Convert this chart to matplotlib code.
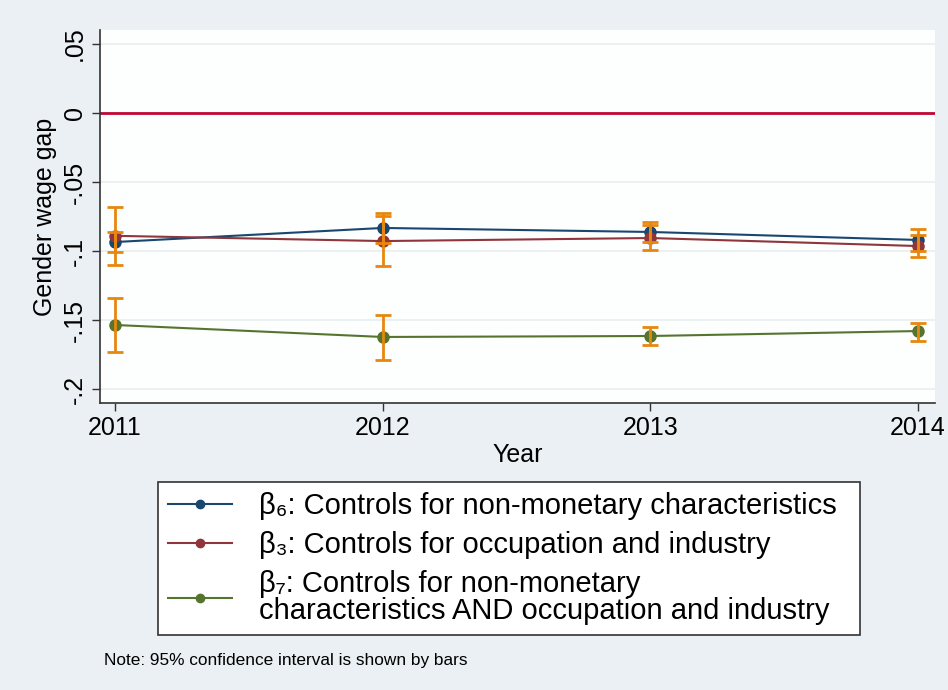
import matplotlib
matplotlib.use("Agg")
import matplotlib.pyplot as plt
from matplotlib.lines import Line2D

plt.rcParams['font.family'] = ['Liberation Sans', 'DejaVu Sans']

years = [2011, 2012, 2013, 2014]
year_labels = ['2011', '2012', '2013', '2014']

beta6 = [-0.0935, -0.0833, -0.0862, -0.0920]
beta6_lo = [-0.1007, -0.0942, -0.0935, -0.1000]
beta6_hi = [-0.0862, -0.0725, -0.0790, -0.0840]

beta3 = [-0.0890, -0.0928, -0.0906, -0.0964]
beta3_lo = [-0.1100, -0.1109, -0.0993, -0.1043]
beta3_hi = [-0.0681, -0.0746, -0.0812, -0.0884]

beta7 = [-0.1536, -0.1623, -0.1616, -0.1580]
beta7_lo = [-0.1732, -0.1790, -0.1680, -0.1650]
beta7_hi = [-0.1340, -0.1464, -0.1550, -0.1520]

yticks = [0.05, 0, -0.05, -0.1, -0.15, -0.2]
ytick_labels = ['.05', '0', '-.05', '-.1', '-.15', '-.2']

labels = ['β₆: Controls for non-monetary characteristics',
          'β₃: Controls for occupation and industry',
          'β₇: Controls for non-monetary\ncharacteristics AND occupation and industry']

c_blue = '#1a476f'
c_red = '#90353b'
c_green = '#55752f'
c_orange = '#e8870e'
c_ref = '#c10534'
bg = '#eaf0f3'

fig = plt.figure(figsize=(9.48, 6.90), dpi=100, facecolor=bg)
ax = fig.add_axes([100/948, 1-403/690, (935-100)/948, (403-30)/690])
ax.set_facecolor('#fdfefe')

for yt in yticks:
    ax.axhline(yt, color='#e8eef0', lw=1.2, zorder=0)
ax.axhline(0, color=c_ref, lw=2, zorder=1)

series = [(beta6, beta6_lo, beta6_hi, c_blue),
          (beta3, beta3_lo, beta3_hi, c_red),
          (beta7, beta7_lo, beta7_hi, c_green)]
for vals, lo, hi, col in series:
    ax.plot(years, vals, color=col, lw=1.5, marker='o', ms=8, zorder=3)
for vals, lo, hi, col in series:
    yerr = [[v - l for v, l in zip(vals, lo)], [h - v for v, h in zip(vals, hi)]]
    ax.errorbar(years, vals, yerr=yerr, fmt='none', ecolor=c_orange,
                elinewidth=2, capsize=5.5, capthick=2, zorder=4)

ax.set_xlim(2011 - 15/267.7, 2014 + 17/267.7)
ax.set_ylim(-(403-113)/1380, (113-30)/1380)
ax.set_xticks(years)
ax.set_xticklabels(year_labels, fontsize=18)
ax.set_yticks(yticks)
ax.set_yticklabels(ytick_labels, fontsize=18, rotation=90, va='center')
ax.tick_params(axis='both', direction='out', length=6, width=1, color='#333333')
ax.set_xlabel('Year', fontsize=18, labelpad=2)
ax.set_ylabel('Gender wage gap', fontsize=18, labelpad=4)
for s in ['top', 'right']:
    ax.spines[s].set_visible(False)
for s in ['left', 'bottom']:
    ax.spines[s].set_color('#333333')
    ax.spines[s].set_linewidth(1.2)

handles = [Line2D([], [], color=c, lw=1.5, marker='o', ms=6) for c in (c_blue, c_red, c_green)]
leg = fig.legend(handles, labels, loc='upper left',
                 bbox_to_anchor=(158/948, 1-636/690, (860-158)/948, (636-482)/690),
                 mode='expand', fontsize=21, frameon=True, fancybox=False,
                 edgecolor='#333333', facecolor='white', framealpha=1,
                 handlelength=2.2, handletextpad=0.9, labelspacing=0.37,
                 borderpad=0.35, borderaxespad=0)
leg.get_frame().set_linewidth(1.2)
leg.get_texts()[2].set_linespacing(0.95)

fig.text(104/948, 1-660/690, 'Note: 95% confidence interval is shown by bars',
         fontsize=12.4, va='center', ha='left')

fig.savefig('out.png', dpi=100, facecolor=bg)
